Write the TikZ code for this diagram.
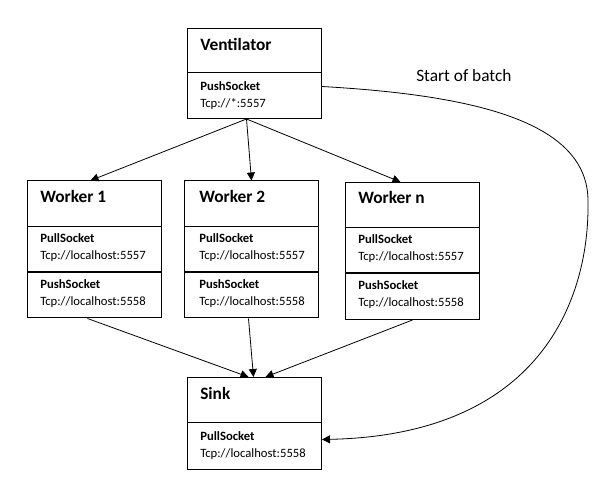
\documentclass[tikz,border=0pt]{standalone}
\usepackage{fontspec}
\setmainfont{Carlito}
\usetikzlibrary{arrows.meta,calc}

\begin{document}
\begin{tikzpicture}[x=0.75pt, y=-0.75pt, >={Triangle[length=6pt,width=6pt]}]
		\tikzstyle{box} = [draw, line width=0.75pt, minimum width=100.5pt, inner sep=0pt, anchor=north west]
		\tikzstyle{head} = [anchor=base west, inner sep=0pt, font=\fontsize{13}{15}\selectfont\bfseries]
		\tikzstyle{sock} = [anchor=base west, inner sep=0pt, font=\fontsize{9.5}{11}\selectfont\bfseries]
		\tikzstyle{addr} = [anchor=base west, inner sep=0pt, font=\fontsize{9.5}{11}\selectfont]
		\tikzstyle{note} = [anchor=base west, inner sep=0pt, font=\fontsize{13}{15}\selectfont]
		\tikzstyle{rule} = [line width=0.75pt]
		\tikzstyle{thickrule} = [line width=1.5pt]
		\tikzstyle{link} = [->, line width=0.6pt]

		\useasboundingbox (0,0) rectangle (608,502);

		% boxes
		\node[box, minimum height=67.5pt] (vent) at (187,28) {};
		\node[box, minimum height=102.75pt] (w1) at (27,180.5) {};
		\node[box, minimum height=102.75pt] (w2) at (184,180.5) {};
		\node[box, minimum height=102.75pt] (wn) at (345,182) {};
		\node[box, minimum height=69pt] (sink) at (187,377) {};

		% dividers
		\draw[rule] (vent.west |- 0,73) -- (vent.east |- 0,73);
		\draw[rule] (w1.west |- 0,227) -- (w1.east |- 0,227);
		\draw[thickrule] (w1.west |- 0,272) -- (w1.east |- 0,272);
		\draw[rule] (w2.west |- 0,227) -- (w2.east |- 0,227);
		\draw[thickrule] (w2.west |- 0,272) -- (w2.east |- 0,272);
		\draw[rule] (wn.west |- 0,228) -- (wn.east |- 0,228);
		\draw[thickrule] (wn.west |- 0,273) -- (wn.east |- 0,273);
		\draw[rule] (sink.west |- 0,423) -- (sink.east |- 0,423);

		% texts
		\node[head] (venthead) at (200,51) {Ventilator};
		\node[sock] (ventsock) at (200,91) {PushSocket};
		\node[addr] (ventaddr) at (200,108) {Tcp://*:5557};

		\node[head] (w1head) at (40,203) {Worker 1};
		\node[head] (w2head) at (199,203) {Worker 2};
		\node[head] (wnhead) at (358,204) {Worker n};
		\foreach \w/\x/\y in {w1/40/0, w2/199/0, wn/358/1}{
			\node[sock] (\w pull) at (\x,243+\y) {PullSocket};
			\node[addr] (\w pulladdr) at (\x,260+\y) {Tcp://localhost:5557};
			\node[sock] (\w push) at (\x,289+\y) {PushSocket};
			\node[addr] (\w pushaddr) at (\x,306+\y) {Tcp://localhost:5558};
		}

		\node[head] (sinkhead) at (200,400) {Sink};
		\node[sock] (sinksock) at (200,441) {PullSocket};
		\node[addr] (sinkaddr) at (200,458) {Tcp://localhost:5558};

		\node[note] (batch) at (416,82) {Start of batch};

		% connectors
		\draw[link] ($(vent.south)+(-8,0)$) -- ($(w1.north)+(-4,0)$);
		\draw[link] ($(vent.south)+(-8,0)$) -- (w2.north);
		\draw[link] ($(vent.south)+(-8,0)$) -- ($(wn.north)+(-12,0)$);

		\draw[link] ($(w1.south)+(-7,0)$) -- ($(sink.north)+(-6,0)$);
		\draw[link] ($(w2.south)+(-3,0)$) -- ($(sink.north)+(-1,0)$);
		\draw[link] (wn.south) -- ($(sink.north)+(11,0)$);

		\draw[link] ($(vent.east)+(0,13)$) .. controls (470,95) and (587,120) .. (588,200)
			.. controls (590,300) and (540,435) .. ($(sink.east)+(0,16)$);

\end{tikzpicture}
\end{document}
